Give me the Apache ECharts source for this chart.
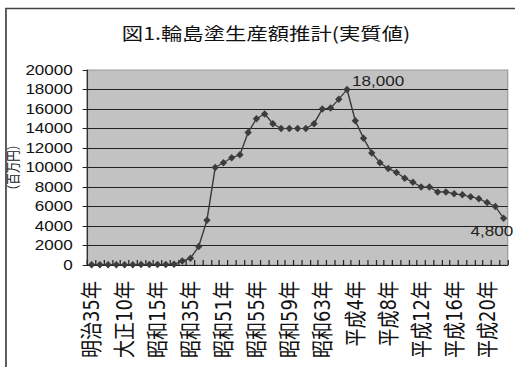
<!DOCTYPE html>
<html>
<head>
<meta charset="utf-8">
<script src="https://cdn.jsdelivr.net/npm/echarts@6/dist/echarts.min.js"></script>
<style>
  html, body { margin: 0; padding: 0; background: #fff; overflow: hidden; }
  #wrap { width: 515px; height: 367px; overflow: hidden; position: relative; }
  /* the chart is laid out narrow and widened, giving the broad lettering of the printed figure */
  #chart { width: 422px; height: 367px; transform: scaleX(1.2204); transform-origin: 0 0; }
</style>
</head>
<body>
<div id="wrap"><div id="chart"></div></div>
<script>
// 年次（明治35年〜平成22年）
const categories = [
  '明治35年', '明治40年', '大正元年', '大正5年', '大正10年', '大正15年', '昭和5年', '昭和10年',
  '昭和15年', '昭和20年', '昭和25年', '昭和30年', '昭和35年', '昭和40年', '昭和45年', '昭和50年',
  '昭和51年', '昭和52年', '昭和53年', '昭和54年', '昭和55年', '昭和56年', '昭和57年', '昭和58年',
  '昭和59年', '昭和60年', '昭和61年', '昭和62年', '昭和63年', '平成元年', '平成2年', '平成3年',
  '平成4年', '平成5年', '平成6年', '平成7年', '平成8年', '平成9年', '平成10年', '平成11年',
  '平成12年', '平成13年', '平成14年', '平成15年', '平成16年', '平成17年', '平成18年', '平成19年',
  '平成20年', '平成21年', '平成22年'
];

// 生産額（実質値、百万円）
const values = [
  30, 30, 30, 30, 30, 30, 40, 40, 40, 40, 80, 400, 700, 1900, 4600, 10000,
  10500, 11000, 11300, 13600, 15000, 15500, 14500, 14000, 14000, 14000, 14000, 14500,
  16000, 16100, 17000, 18000, 14800, 13000, 11500, 10500, 9900, 9500, 8900, 8500,
  8000, 8000, 7500, 7500, 7300, 7200, 7000, 6800, 6400, 6000, 4800
];

// 縦軸目盛
const yMin = 0;
const yMax = 20000;
const yStep = 2000;

const titleText = '図1.輪島塗生産額推計(実質値)';
const yName = '（百万円）';

// points whose value is written beside the marker
const peakIndex = 31;
const lastIndex = values.length - 1;

function withCommas(v) {
  return String(v).replace(/\B(?=(\d{3})+(?!\d))/g, ',');
}

const labelFont = { fontSize: 14, fontFamily: 'Liberation Sans', color: '#222' };

const seriesData = values.map(function (v, i) {
  if (i === peakIndex) {
    return { value: v, label: Object.assign({ show: true, position: 'right', distance: 1, offset: [0, -8] }, labelFont) };
  }
  if (i === lastIndex) {
    return { value: v, label: Object.assign({ show: true, position: 'bottom', distance: 2, offset: [-9.5, 0] }, labelFont) };
  }
  return v;
});

const chart = echarts.init(document.getElementById('chart'), null, { renderer: 'svg' });

chart.setOption({
  animation: false,
  backgroundColor: '#fff',
  title: {
    text: titleText,
    left: 218,
    top: 24,
    padding: 0,
    textAlign: 'center',
    textStyle: { fontSize: 17.5, fontWeight: 'normal', fontFamily: 'Noto Sans CJK JP', color: '#111' }
  },
  graphic: [{
    type: 'rect',
    silent: true,
    shape: { x: 4.9, y: 8.5, width: 700, height: 700 },
    style: { fill: 'none', stroke: '#444', lineWidth: 1.4 }
  }],
  grid: {
    left: 71.7, right: 6, top: 70, bottom: 102,
    containLabel: false,
    outerBoundsMode: 'none',
    show: true,
    backgroundColor: '#c2c2c2',
    borderColor: '#999',
    borderWidth: 1
  },
  xAxis: {
    type: 'category',
    data: categories,
    boundaryGap: true,
    axisLine: { show: true, lineStyle: { color: '#222', width: 1 } },
    axisTick: { show: true, inside: true, length: 5, interval: 0, lineStyle: { color: '#222', width: 1 } },
    axisLabel: {
      interval: 3,
      rotate: 90,
      margin: 16,
      fontSize: 18,
      fontFamily: 'DejaVu Sans, Noto Sans CJK JP',
      color: '#111'
    },
    splitLine: { show: false }
  },
  yAxis: {
    type: 'value',
    min: yMin,
    max: yMax,
    interval: yStep,
    name: yName,
    nameLocation: 'middle',
    nameRotate: 90,
    nameGap: 56,
    nameMoveOverlap: false,
    nameTextStyle: { fontSize: 11.5, fontFamily: 'Noto Sans CJK JP', color: '#222' },
    axisLine: { show: true, lineStyle: { color: '#222', width: 1 } },
    axisTick: { show: true, length: 4, lineStyle: { color: '#222', width: 1 } },
    axisLabel: {
      margin: 12, fontSize: 14, fontFamily: 'Liberation Sans', color: '#111',
      formatter: function (v) { return String(v); }
    },
    splitLine: { show: true, showMaxLine: false, lineStyle: { color: '#222', width: 1 } }
  },
  series: [{
    type: 'line',
    data: seriesData,
    symbol: 'diamond',
    symbolSize: [6, 7.5],
    showAllSymbol: true,
    lineStyle: { color: '#3c3c3c', width: 1.2 },
    itemStyle: { color: '#3c3c3c' },
    label: { show: false, formatter: function (p) { return withCommas(p.value); } },
    emphasis: { disabled: true }
  }]
});
</script>
</body>
</html>
